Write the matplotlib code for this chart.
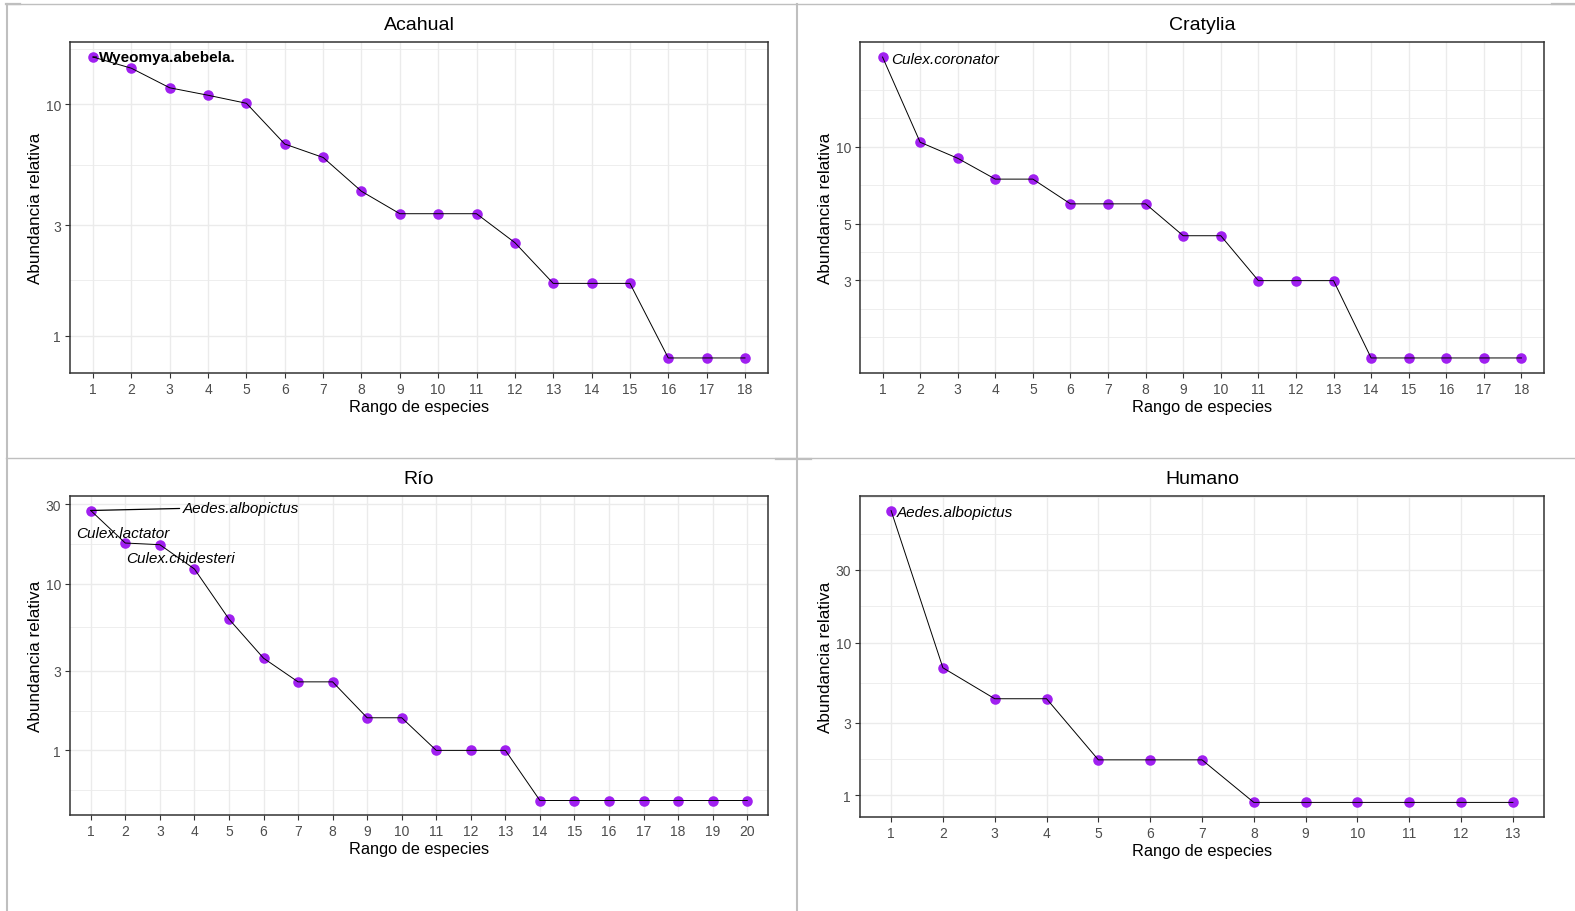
import numpy as np
import matplotlib
matplotlib.use("Agg")
import matplotlib.pyplot as plt
from matplotlib.lines import Line2D
from matplotlib.ticker import FixedLocator, NullFormatter

# ---------------- data ----------------
titles = ["Acahual", "Cratylia", "Río", "Humano"]

acahual = [15.97, 14.29, 11.76, 10.92, 10.08, 6.72, 5.88, 4.20, 3.36, 3.36, 3.36,
           2.52, 1.68, 1.68, 1.68, 0.80, 0.80, 0.80]
cratylia = [22.4, 10.4, 9.0, 7.46, 7.46, 5.97, 5.97, 5.97, 4.48, 4.48, 2.99, 2.99,
            2.99, 1.49, 1.49, 1.49, 1.49, 1.49]
rio = [27.6, 17.6, 17.2, 12.3, 6.15, 3.58, 2.58, 2.58, 1.57, 1.57, 1.0, 1.0, 1.0,
       0.50, 0.50, 0.50, 0.50, 0.50, 0.50, 0.50]
humano = [73.5, 6.86, 4.30, 4.30, 1.71, 1.71, 1.71, 0.90, 0.90, 0.90, 0.90, 0.90, 0.90]

yticks_acahual = [1, 3, 10]
yticks_cratylia = [3, 5, 10]
yticks_rio = [1, 3, 10, 30]
yticks_humano = [1, 3, 10, 30]

# labels: (species, rank index, fontstyle, fontweight)
labels_acahual = [("Wyeomya.abebela.", 1, "normal", "bold")]
labels_cratylia = [("Culex.coronator", 1, "italic", "normal")]
labels_rio = [("Aedes.albopictus", 1, "italic", "normal"),
              ("Culex.lactator", 2, "italic", "normal"),
              ("Culex.chidesteri", 3, "italic", "normal")]
labels_humano = [("Aedes.albopictus", 1, "italic", "normal")]

# ---------------- layout/style ----------------
W, H = 1575, 912
fig = plt.figure(figsize=(W / 100, H / 100), dpi=100)
fig.patch.set_facecolor("white")

# panel boxes in pixels: left, right, top, bottom
boxes = [(70, 768, 43, 374), (860, 1544, 43, 374),
         (70, 768, 497, 816), (860, 1544, 497, 818)]
# label offsets in points (dx, dy) and whether a segment is drawn
label_offsets = [
    [(4.5, 0.0, True)],
    [(6.5, -1.5, False)],
    [(66.0, 1.5, True), (-35.5, 7.0, False), (-24.0, -9.6, False)],
    [(4.0, -1.2, False)],
]

datasets = [acahual, cratylia, rio, humano]
ytick_sets = [yticks_acahual, yticks_cratylia, yticks_rio, yticks_humano]
label_sets = [labels_acahual, labels_cratylia, labels_rio, labels_humano]

PURPLE = "#A020F0"
GRID = "#EBEBEB"
BORDER = "#333333"
TICKLAB = "#4D4D4D"
FONT = ["Liberation Sans", "DejaVu Sans"]
NARROW = ["Liberation Sans Narrow", "Liberation Sans", "DejaVu Sans"]


def minor_breaks(major, lo, hi):
    b = list(np.log10(major))
    b = [v for v in b if lo <= v <= hi]
    bd = b[1] - b[0]
    if lo < b[0]:
        b = [b[0] - bd] + b
    if hi > b[-1]:
        b = b + [b[-1] + bd]
    out = []
    for i in range(len(b) - 1):
        out += [b[i], (b[i] + b[i + 1]) / 2, b[i + 1]]
    out = sorted(set(round(v, 6) for v in out))
    majl = [round(v, 6) for v in np.log10(major)]
    return [10 ** v for v in out if lo <= v <= hi and v not in majl]


for i in range(4):
    l, r, t, b = boxes[i]
    ax = fig.add_axes([l / W, 1 - b / H, (r - l) / W, (b - t) / H])
    vals = datasets[i]
    n = len(vals)
    x = np.arange(1, n + 1)
    ax.set_yscale("log")

    ax.plot(x, vals, color="black", lw=0.7, zorder=4)
    ax.plot(x, vals, ls="none", marker="o", ms=7.6, mfc=PURPLE, mec=PURPLE,
            mew=0, zorder=3)

    lo, hi = np.log10(min(vals)), np.log10(max(vals))
    pad = 0.05 * (hi - lo)
    ylo, yhi = lo - pad, hi + pad
    ax.set_ylim(10 ** ylo, 10 ** yhi)
    ax.set_xlim(0.4, n + 0.6)

    ax.set_xticks(x)
    ax.set_xticklabels([str(v) for v in x])
    ax.xaxis.set_minor_locator(FixedLocator([]))
    yt = ytick_sets[i]
    ax.yaxis.set_major_locator(FixedLocator(yt))
    ax.set_yticklabels([str(v) for v in yt])
    ax.yaxis.set_minor_locator(FixedLocator(minor_breaks(yt, ylo, yhi)))
    ax.yaxis.set_minor_formatter(NullFormatter())

    ax.grid(True, which="major", color=GRID, lw=1.0, zorder=0)
    ax.grid(True, which="minor", axis="y", color=GRID, lw=0.6, zorder=0)
    ax.set_axisbelow(True)
    for s in ax.spines.values():
        s.set_color(BORDER)
        s.set_linewidth(1.1)
        s.set_zorder(5)

    ax.tick_params(which="major", length=3.5, width=0.8, color=BORDER,
                   labelcolor=TICKLAB, labelsize=10, pad=3)
    ax.tick_params(which="minor", length=0)
    for lab in ax.get_xticklabels() + ax.get_yticklabels():
        lab.set_family(NARROW)

    ax.set_title(titles[i], fontsize=14, pad=9, family=FONT, color="black")
    ax.set_xlabel("Rango de especies", fontsize=11.8, family=FONT, va="center")
    ax.xaxis.set_label_coords(0.5, -33.5 / (b - t))
    ax.set_ylabel("Abundancia relativa", fontsize=12.3, family=FONT, va="center")
    ax.yaxis.set_label_coords(-34.0 / (r - l), 0.5)

    for (name, rank, style, weight), (dx, dy, seg) in zip(label_sets[i], label_offsets[i]):
        kw = {}
        if seg:
            kw["arrowprops"] = dict(arrowstyle="-", color="black", lw=0.9,
                                    shrinkA=0, shrinkB=0, relpos=(0, 0.5))
        ax.annotate(name, xy=(rank, vals[rank - 1]), xytext=(dx, dy),
                    textcoords="offset points", ha="left", va="center",
                    fontsize=11, fontstyle=style, fontweight=weight,
                    family=FONT, color="black", zorder=6, **kw)

# frame lines between the four images
SEP = "#BFBFBF"


def hline(y, x0, x1, lw):
    fig.add_artist(Line2D([x0 / W, x1 / W], [1 - y / H, 1 - y / H],
                          transform=fig.transFigure, color=SEP, lw=lw))


def vline(x, y0, y1, lw):
    fig.add_artist(Line2D([x / W, x / W], [1 - y0 / H, 1 - y1 / H],
                          transform=fig.transFigure, color=SEP, lw=lw))


vline(6.5, 5, 912, 1.5)
hline(5, 6, 1575, 1.0)
hline(5.3, 1552, 1575, 1.6)
hline(5.3, 6, 20, 1.6)
vline(797, 5, 912, 1.5)
hline(459, 6, 1575, 1.0)
hline(459.5, 776, 811, 1.6)

fig.savefig("out.png", dpi=100, facecolor="white")
